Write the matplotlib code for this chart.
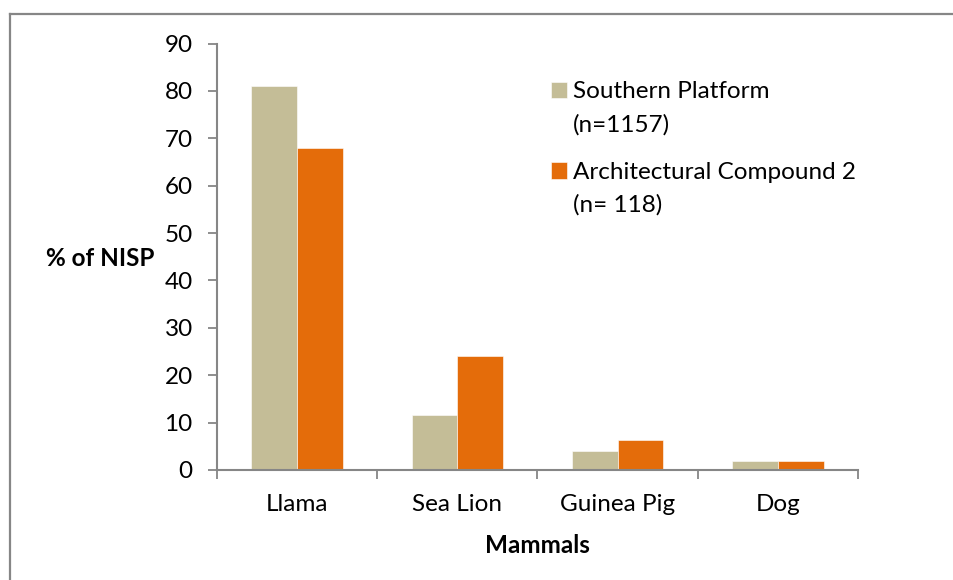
import matplotlib
matplotlib.use('Agg')
import matplotlib.pyplot as plt
import numpy as np
from matplotlib.lines import Line2D

plt.rcParams['font.family'] = ['Lato', 'DejaVu Sans']

# ---------------------------------------------------------
# DATA
# ---------------------------------------------------------
categories = ['Llama', 'Sea Lion', 'Guinea Pig', 'Dog']
southern_platform = [81.0, 11.6, 4.0, 1.9]
arch_compound_2 = [67.9, 24.1, 6.3, 1.8]
series_names = ['Southern Platform', 'Architectural Compound 2']
series_counts = ['(n=1157)', '(n= 118)']
y_ticks = [0, 10, 20, 30, 40, 50, 60, 70, 80, 90]

# ---------------------------------------------------------
# FIGURE
# ---------------------------------------------------------
W, H = 954, 580
FS = 17.5
fig = plt.figure(figsize=(W / 100, H / 100), dpi=100)
ax = fig.add_axes([217 / W, 1 - 470 / H, 641 / W, 426.5 / H])

axis_grey = '#868686'
colors = ['#C4BD97', '#E46C0A']
bw = 0.285
x = np.arange(len(categories))

ax.bar(x - bw / 2, southern_platform, bw, color=colors[0], label=series_names[0],
       edgecolor='white', linewidth=0.4)
ax.bar(x + bw / 2, arch_compound_2, bw, color=colors[1], label=series_names[1],
       edgecolor='white', linewidth=0.4)

ax.set_xlim(-0.5, len(categories) - 0.5)
ax.set_ylim(0, 90)
ax.set_yticks(y_ticks)
ax.set_xticks(x)
ax.set_xticklabels(categories)
ax.set_xticks(np.arange(len(categories) + 1) - 0.5, minor=True)

for s in ['top', 'right']:
    ax.spines[s].set_visible(False)
for s in ['left', 'bottom']:
    ax.spines[s].set_color(axis_grey)
    ax.spines[s].set_linewidth(1.5)

ax.tick_params(axis='y', length=6.5, width=1.3, color=axis_grey, pad=11, labelsize=FS)
ax.tick_params(axis='x', which='major', length=0, pad=17, labelsize=FS)
ax.tick_params(axis='x', which='minor', length=6.5, width=1.3, color=axis_grey)

ax.set_ylabel('% of NISP', rotation=0, fontsize=FS, fontweight='bold', ha='center', va='center')
ax.yaxis.set_label_coords(-0.1825, 0.497)
ax.set_xlabel('Mammals', fontsize=FS, fontweight='bold', ha='center', va='center')
ax.xaxis.set_label_coords(0.5, -0.178)

leg = ax.legend(loc='upper left', bbox_to_anchor=(551.5 / W, 1 - 81.5 / H),
                bbox_transform=fig.transFigure, frameon=False, fontsize=FS,
                handlelength=0.65, handleheight=0.65, handletextpad=0.25,
                labelspacing=2.45, borderpad=0, borderaxespad=0)

# second line of each legend entry, under its label
fig.canvas.draw()
for t, n in zip(leg.get_texts(), series_counts):
    bb = t.get_window_extent()
    fig.text(bb.x0 / W, (bb.y0 - 33) / H, n, fontsize=FS, ha='left', va='bottom')

# outer chart frame (top and left edges visible)
fig.add_artist(Line2D([10 / W, 1], [1 - 14 / H, 1 - 14 / H], transform=fig.transFigure,
                      color=axis_grey, linewidth=1.6))
fig.add_artist(Line2D([10 / W, 10 / W], [0, 1 - 14 / H], transform=fig.transFigure,
                      color=axis_grey, linewidth=1.6))

fig.savefig('out.png', dpi=100)
